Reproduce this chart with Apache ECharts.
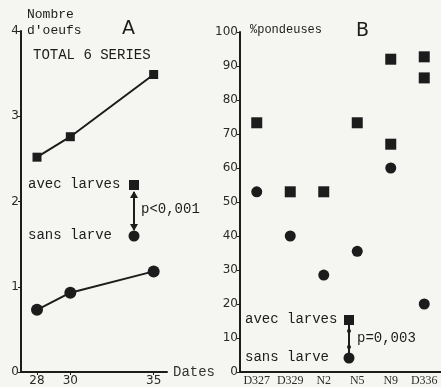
<!DOCTYPE html>
<html>
<head>
<meta charset="utf-8">
<script src="https://cdn.jsdelivr.net/npm/echarts@6/dist/echarts.min.js"></script>
<style>
  html, body { margin: 0; padding: 0; background: #f5f5f2; }
  #chart { width: 441px; height: 387px; }
</style>
</head>
<body>
<div id="chart"></div>
<script>
// panel A : nombre d'oeufs par date
const datesA = [28, 30, 35];
const avecLarvesA = [2.52, 2.76, 3.49];
const sansLarveA = [0.73, 0.93, 1.18];

// panel B : % pondeuses par serie
const seriesB = ['D327', 'D329', 'N2', 'N5', 'N9', 'D336'];
const avecLarvesB = [['D327', 73.3], ['D329', 53], ['N2', 53], ['N5', 73.3], ['N9', 92], ['N9', 67], ['D336', 92.7], ['D336', 86.5]];
const sansLarveB = [53, 40, 28.5, 35.5, 60, 20];

const ink = '#1c1c1c';
const mono = '"Liberation Mono", monospace';
const sans = '"DejaVu Sans", sans-serif';
const serif = '"Liberation Serif", serif';

const chart = echarts.init(document.getElementById('chart'));

const yAxisBase = {
  type: 'value',
  axisLine: { show: true, lineStyle: { color: ink, width: 2 } },
  axisTick: { show: true, length: 3, lineStyle: { color: ink } },
  axisLabel: { color: '#2a2a2a', fontFamily: sans, fontSize: 12, margin: 2 },
  splitLine: { show: false }
};

const txt = (x, y, text, font, size, extra) => ({
  type: 'text', left: x, top: y,
  style: Object.assign({ text, fill: ink, font: size + 'px ' + font }, extra || {})
});

chart.setOption({
  backgroundColor: '#f5f5f2',
  animation: false,
  grid: [
    { left: 21, top: 31, width: 146, height: 341 },
    { left: 240, top: 32, width: 201, height: 341 }
  ],
  xAxis: [
    {
      gridIndex: 0, type: 'value', min: 27.04, max: 35.8,
      axisLine: { lineStyle: { color: ink, width: 2 } },
      axisTick: { customValues: datesA, length: 3, lineStyle: { color: ink } },
      axisLabel: { customValues: datesA, color: '#2a2a2a', fontFamily: sans, fontSize: 12, margin: 3 },
      splitLine: { show: false },
      name: 'Dates', nameLocation: 'end', nameGap: 6,
      nameTextStyle: { color: '#333', fontFamily: mono, fontSize: 14, verticalAlign: 'middle' }
    },
    {
      gridIndex: 1, type: 'category', data: seriesB, boundaryGap: true,
      axisLine: { lineStyle: { color: ink, width: 2 } },
      axisTick: { show: false },
      axisLabel: { color: '#2a2a2a', fontFamily: serif, fontSize: 12, margin: 3, interval: 0 }
    }
  ],
  yAxis: [
    Object.assign({}, yAxisBase, { gridIndex: 0, min: 0, max: 4, interval: 1 }),
    Object.assign({}, yAxisBase, { gridIndex: 1, min: 0, max: 100, interval: 10 })
  ],
  series: [
    {
      type: 'line', xAxisIndex: 0, yAxisIndex: 0,
      data: datesA.map((d, i) => [d, avecLarvesA[i]]),
      symbol: 'rect', symbolSize: 9,
      lineStyle: { color: ink, width: 2 }, itemStyle: { color: ink }
    },
    {
      type: 'line', xAxisIndex: 0, yAxisIndex: 0,
      data: datesA.map((d, i) => [d, sansLarveA[i]]),
      symbol: 'circle', symbolSize: 12,
      lineStyle: { color: ink, width: 2 }, itemStyle: { color: ink }
    },
    {
      type: 'scatter', xAxisIndex: 1, yAxisIndex: 1,
      data: avecLarvesB, symbol: 'rect', symbolSize: 11,
      itemStyle: { color: ink, opacity: 1 }
    },
    {
      type: 'scatter', xAxisIndex: 1, yAxisIndex: 1,
      data: seriesB.map((s, i) => [s, sansLarveB[i]]), symbol: 'circle', symbolSize: 11,
      itemStyle: { color: ink, opacity: 1 }
    }
  ],
  graphic: [
    txt(27, 8, 'Nombre', mono, 13),
    txt(27, 24, "d'oeufs", mono, 13),
    txt(122, 20, 'A', sans, 19),
    txt(33, 48, 'TOTAL 6 SERIES', mono, 14),
    txt(28, 177, 'avec larves', mono, 14),
    txt(28, 228, 'sans larve', mono, 14),
    { type: 'rect', shape: { x: 129, y: 180, width: 10, height: 10 }, style: { fill: ink } },
    { type: 'circle', shape: { cx: 134, cy: 236, r: 5.5 }, style: { fill: ink } },
    { type: 'line', shape: { x1: 134, y1: 192, x2: 134, y2: 230 }, style: { stroke: ink, lineWidth: 2 } },
    { type: 'polygon', shape: { points: [[130, 198], [138, 198], [134, 191]] }, style: { fill: ink } },
    { type: 'polygon', shape: { points: [[130, 224], [138, 224], [134, 231]] }, style: { fill: ink } },
    txt(141, 202, 'p<0,001', mono, 14),

    txt(250, 24, '%pondeuses', mono, 12),
    txt(356, 22, 'B', sans, 19),
    txt(245, 312, 'avec larves', mono, 14),
    txt(245, 350, 'sans larve', mono, 14),
    { type: 'rect', shape: { x: 344, y: 315, width: 10, height: 10 }, style: { fill: ink } },
    { type: 'circle', shape: { cx: 349, cy: 358, r: 5.5 }, style: { fill: ink } },
    { type: 'line', shape: { x1: 349, y1: 325, x2: 349, y2: 353 }, style: { stroke: ink, lineWidth: 2 } },
    { type: 'circle', shape: { cx: 349, cy: 331, r: 2 }, style: { fill: ink } },
    { type: 'circle', shape: { cx: 349, cy: 347, r: 2 }, style: { fill: ink } },
    txt(357, 331, 'p=0,003', mono, 14)
  ]
});
</script>
</body>
</html>
